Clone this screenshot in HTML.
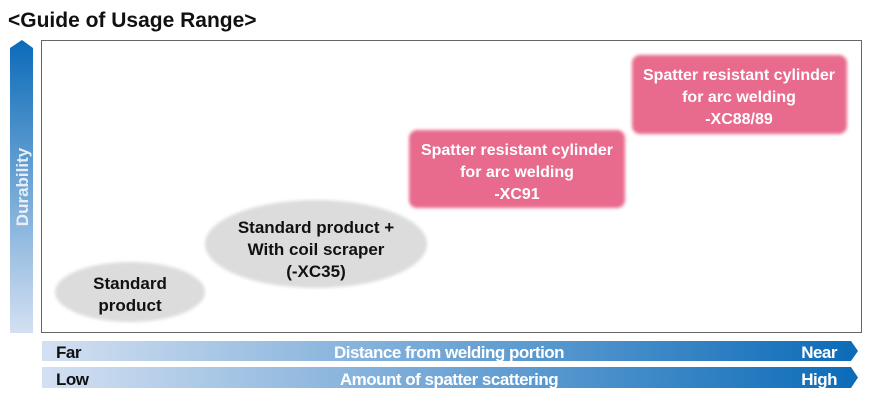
<!DOCTYPE html>
<html><head><style>body{margin:0;background:#fff}</style></head><body>
<svg width="874" height="400" xmlns="http://www.w3.org/2000/svg" font-family="Liberation Sans, Arial, sans-serif" font-weight="bold">
<defs>
<linearGradient id="gv" x1="0" y1="1" x2="0" y2="0"><stop offset="0" stop-color="#d4e0f2"/><stop offset="1" stop-color="#0b6bb8"/></linearGradient>
<linearGradient id="gh" x1="0" y1="0" x2="1" y2="0"><stop offset="0" stop-color="#d4e0f2"/><stop offset="1" stop-color="#0b6bb8"/></linearGradient>
<filter id="bl"><feGaussianBlur stdDeviation="1.5"/></filter>
</defs>
<text x="8" y="27" font-size="21" fill="#111">&lt;Guide of Usage Range&gt;</text>
<polygon points="10,48 22,40 33,48 33,333 10,333" fill="url(#gv)"/>
<text transform="translate(28,187) rotate(-90)" text-anchor="middle" font-size="17" fill="#e8eef8">Durability</text>
<rect x="41.5" y="40.5" width="820" height="292" fill="#fff" stroke="#666" stroke-width="1"/>
<ellipse cx="130" cy="292" rx="75" ry="30" fill="#dcdcdc" filter="url(#bl)"/>
<ellipse cx="316" cy="244" rx="111" ry="44" fill="#dcdcdc" filter="url(#bl)"/>
<g font-size="17" fill="#111" text-anchor="middle">
<text x="130" y="289">Standard</text><text x="130" y="311">product</text>
<text x="316" y="233">Standard product +</text><text x="316" y="255">With coil scraper</text><text x="316" y="277">(-XC35)</text>
</g>
<rect x="409" y="130" width="216" height="78" rx="8" fill="#e86b8c" filter="url(#bl)"/>
<rect x="632" y="55" width="215" height="79" rx="8" fill="#e86b8c" filter="url(#bl)"/>
<g font-size="16" fill="#fff" text-anchor="middle">
<text x="517" y="155">Spatter resistant cylinder</text><text x="517" y="177">for arc welding</text><text x="517" y="199">-XC91</text>
<text x="739" y="80">Spatter resistant cylinder</text><text x="739" y="102">for arc welding</text><text x="739" y="124">-XC88/89</text>
</g>
<polygon points="42,341 851,341 858,351 851,361 42,361" fill="url(#gh)"/>
<polygon points="42,367 851,367 858,377.5 851,388 42,388" fill="url(#gh)"/>
<g font-size="17" fill="#111" letter-spacing="-0.5">
<text x="56" y="358">Far</text><text x="56" y="385">Low</text>
</g>
<g font-size="17" fill="#fff" letter-spacing="-0.5">
<text x="449" y="358" text-anchor="middle">Distance from welding portion</text>
<text x="449" y="385" text-anchor="middle">Amount of spatter scattering</text>
<text x="837" y="358" text-anchor="end">Near</text>
<text x="837" y="385" text-anchor="end">High</text>
</g>
</svg>
</body></html>
